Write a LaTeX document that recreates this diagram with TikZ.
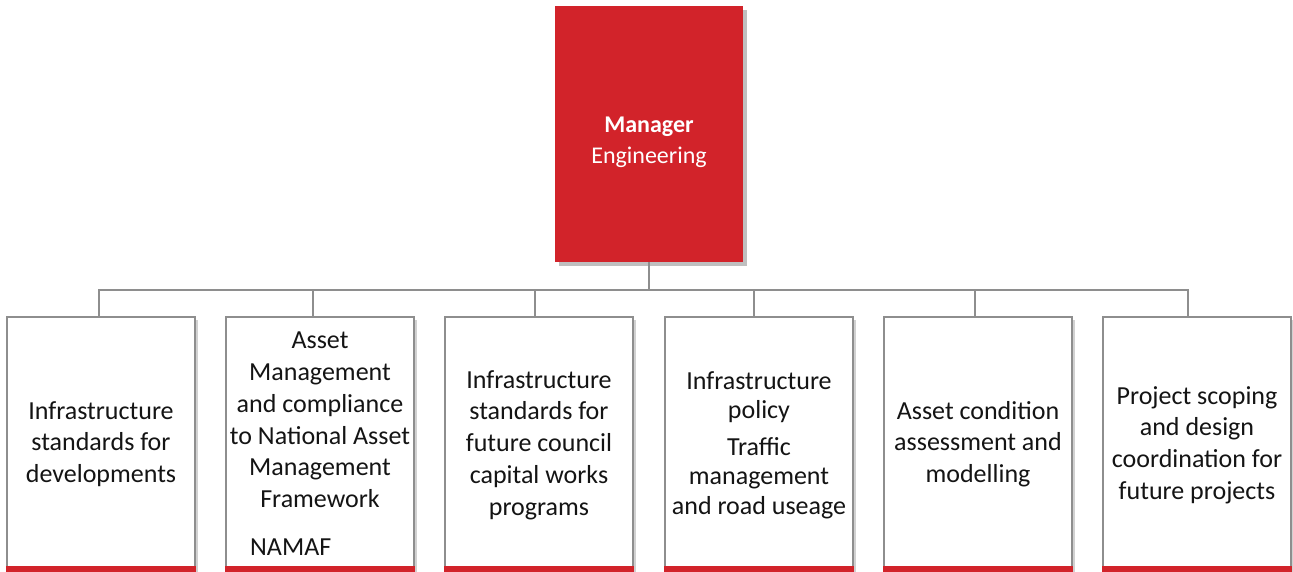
\documentclass[tikz,border=0pt]{standalone}
\usepackage{fontspec}
\setmainfont{Carlito}
\usetikzlibrary{shadows}
\definecolor{mred}{HTML}{D2232A}
\definecolor{lgray}{HTML}{8E8E8E}
\definecolor{txt}{HTML}{141414}
\tikzset{
  mgrbox/.style={rectangle, fill=mred, minimum width=188pt, minimum height=256pt, inner sep=0pt,
    drop shadow={shadow xshift=4pt, shadow yshift=-4pt, opacity=0.25, fill=black}},
  childbox/.style={rectangle, draw=lgray, line width=1.2pt, fill=white, minimum width=188pt, minimum height=254pt, inner sep=0pt,
    drop shadow={shadow xshift=3pt, shadow yshift=-3pt, opacity=0.18, fill=black}},
  lbl/.style={align=center, text=txt, font=\fontsize{26}{31.8}\selectfont, inner sep=0pt},
  conn/.style={draw=lgray, line width=1.5pt},
  redbar/.style={fill=mred}
}
\begin{document}
\begin{tikzpicture}[x=1pt,y=-1pt]
\useasboundingbox (0,0) rectangle (1293,571);
\fill[white] (0,0) rectangle (1293,571);
% manager
\node[mgrbox] (mgr) at (649,134) {};
\node[align=center, text=white, font=\fontsize{24}{31}\selectfont, inner sep=0pt] (mgrt) at (649,142) {\textbf{Manager}\\Engineering};
% bus
\coordinate (bus) at (649,290);
\coordinate (c1) at (99,317);
\coordinate (c2) at (313,317);
\coordinate (c3) at (535,317);
\coordinate (c4) at (754,317);
\coordinate (c5) at (975,317);
\coordinate (c6) at (1188,317);
\draw[conn] (mgr.south) -- (bus);
\draw[conn] (bus) -| (c1);
\draw[conn] (bus) -| (c2);
\draw[conn] (bus) -| (c3);
\draw[conn] (bus) -| (c4);
\draw[conn] (bus) -| (c5);
\draw[conn] (bus) -| (c6);
% child boxes
\node[childbox] (b1) at (101,444) {};
\node[childbox] (b2) at (320,444) {};
\node[childbox] (b3) at (539,444) {};
\node[childbox] (b4) at (759,444) {};
\node[childbox] (b5) at (978,444) {};
\node[childbox] (b6) at (1197,444) {};
\foreach \b in {b1,b2,b3,b4,b5,b6}{
  \fill[redbar] ([xshift=-0.6pt]\b.south west) rectangle ([xshift=0.6pt,yshift=6pt]\b.south east);
}
% texts
\node[lbl] (t1) at (101,444) {Infrastructure\\standards for\\developments};
\node[lbl] (t2) at (320,420) {Asset\\Management\\and compliance\\to National Asset\\Management\\Framework};
\node[lbl, anchor=west] (t2b) at (250,547) {NAMAF};
\node[lbl] (t3) at (539,445) {Infrastructure\\standards for\\future council\\capital works\\programs};
\node[lbl, font=\fontsize{26}{29.5}\selectfont] (t4) at (759,445) {Infrastructure\\policy\\[7pt]Traffic\\management\\and road useage};
\node[lbl] (t5) at (978,444) {Asset condition\\assessment and\\modelling};
\node[lbl] (t6) at (1197,445) {Project scoping\\and design\\coordination for\\future projects};
\end{tikzpicture}
\end{document}
